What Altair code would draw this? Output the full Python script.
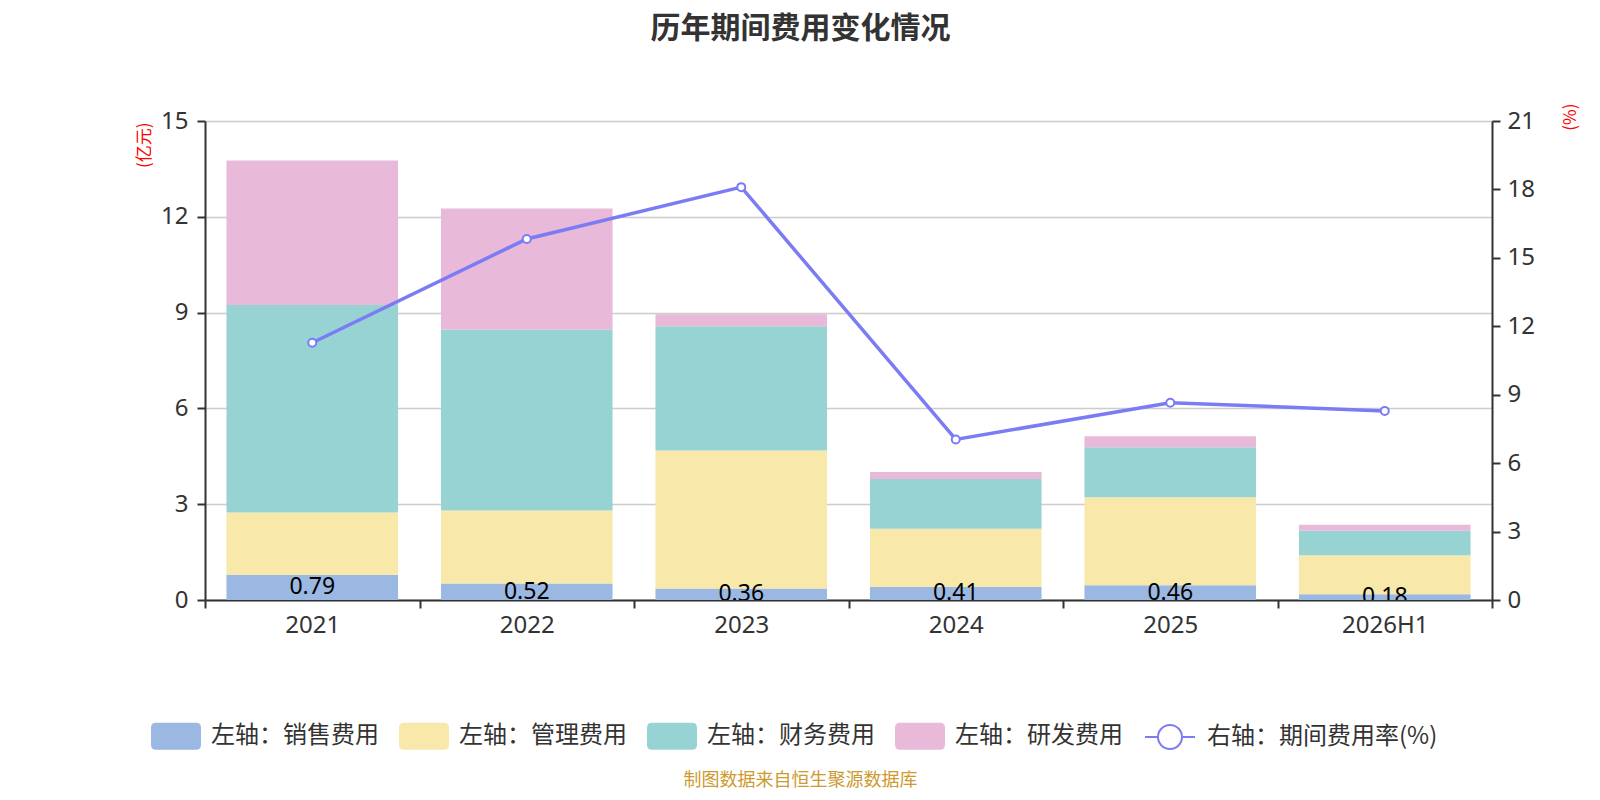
import altair as alt
import pandas as pd

years = ["2021", "2022", "2023", "2024", "2025", "2026H1"]
sales = [0.79, 0.52, 0.36, 0.41, 0.46, 0.18]
admin = [1.95, 2.28, 4.32, 1.82, 2.76, 1.22]
finance = [6.50, 5.67, 3.89, 1.56, 1.56, 0.77]
rnd = [4.52, 3.79, 0.38, 0.22, 0.35, 0.19]
rate = [11.28, 15.83, 18.10, 7.04, 8.65, 8.29]

series_names = ["左轴：销售费用", "左轴：管理费用", "左轴：财务费用", "左轴：研发费用"]
series_colors = ["#9BB8E2", "#F8E8A9", "#98D3D4", "#E8B9D9"]
line_name = "右轴：期间费用率(%)"
line_color = "#7B7CF4"

rows = []
for i, y in enumerate(years):
    for k, vals in enumerate([sales, admin, finance, rnd]):
        rows.append({"year": y, "series": series_names[k], "value": vals[i], "ord": k})
df_bar = pd.DataFrame(rows)
df_lab = pd.DataFrame({"year": years, "sales": sales, "mid": [v / 2 for v in sales],
                       "txt": [f"{v:.2f}" for v in sales]})
df_line = pd.DataFrame({"year": years, "rate": rate, "series": [line_name] * len(years)})

CJK = "Noto Sans CJK SC"
NUM = "Noto Sans"

rr_path = ("M-0.8,-0.54L0.8,-0.54Q1,-0.54 1,-0.34L1,0.34Q1,0.54 0.8,0.54"
           "L-0.8,0.54Q-1,0.54 -1,0.34L-1,-0.34Q-1,-0.54 -0.8,-0.54Z")
line_path = ("M-1,0L-0.48,0M0.48,0L1,0M0.48,0A0.48,0.48,0,1,1,-0.48,0"
             "A0.48,0.48,0,1,1,0.48,0")

x_axis = alt.Axis(
    title="制图数据来自恒生聚源数据库", titleFont=CJK, titleFontSize=18,
    titleColor="#CC9A2E", titleFontWeight="normal", titleX=595, titleY=180,
    titleAlign="center", titleBaseline="middle", titleAngle=0,
    labelFont=NUM, labelFontSize=24, labelColor="#333333", labelPadding=5,
    tickBand="extent", tickSize=8, tickColor="#333333", tickWidth=2,
    domainColor="#333333", domainWidth=2, grid=False, labelAngle=0,
)
x_enc = alt.X("year:N", sort=years, axis=x_axis,
              scale=alt.Scale(paddingInner=0, paddingOuter=0))

y_left_axis = alt.Axis(
    values=[0, 3, 6, 9, 12, 15], grid=True, gridColor="#CCCCCC", gridWidth=1.5,
    title="(亿元)", titleFont=CJK, titleFontSize=17, titleColor="#FF0000",
    titleFontWeight="normal", titleAngle=270, titleX=-61, titleY=1,
    titleAlign="right", titleBaseline="middle",
    labelFont=NUM, labelFontSize=24, labelColor="#333333", labelPadding=9,
    tickSize=8, tickColor="#333333", tickWidth=2,
    domainColor="#333333", domainWidth=2,
)
y_left_scale = alt.Scale(domain=[0, 15], nice=False, zero=True)

bars = alt.Chart(df_bar).mark_bar(width=alt.RelativeBandSize(0.8)).encode(
    x=x_enc,
    y=alt.Y("value:Q", stack="zero", scale=y_left_scale, axis=y_left_axis),
    color=alt.Color(
        "series:N",
        scale=alt.Scale(domain=series_names, range=series_colors),
        legend=alt.Legend(
            orient="none", legendX=-54, legendY=590, direction="horizontal",
            columns=4, title=None, symbolType=rr_path, symbolSize=2500,
            symbolStrokeWidth=0, symbolOpacity=1, labelFont=CJK, labelFontSize=24,
            labelColor="#333333", labelOffset=10, columnPadding=20, padding=0,
            labelLimit=400, symbolOffset=0,
        ),
    ),
    order=alt.Order("ord:Q"),
)

labels = alt.Chart(df_lab).mark_text(
    font=NUM, fontSize=23, color="#000000", baseline="middle", align="center", clip=True
).encode(
    x=x_enc,
    y=alt.Y("mid:Q", scale=y_left_scale, axis=y_left_axis),
    text="txt:N",
)

left = alt.layer(bars, labels)

y_right_axis = alt.Axis(
    orient="right", values=[0, 3, 6, 9, 12, 15, 18, 21], grid=False,
    title="(%)", titleFont=CJK, titleFontSize=17, titleColor="#FF0000",
    titleFontWeight="normal", titleAngle=270, titleX=78, titleY=-18,
    titleAlign="right", titleBaseline="middle",
    labelFont=NUM, labelFontSize=24, labelColor="#333333", labelPadding=7,
    tickSize=8, tickColor="#333333", tickWidth=2,
    domainColor="#333333", domainWidth=2,
)
y_right_scale = alt.Scale(domain=[0, 21], nice=False, zero=True)

line = alt.Chart(df_line).mark_line(strokeWidth=3.5).encode(
    x=x_enc,
    y=alt.Y("rate:Q", scale=y_right_scale, axis=y_right_axis),
    stroke=alt.Stroke(
        "series:N",
        scale=alt.Scale(domain=[line_name], range=[line_color]),
        legend=alt.Legend(
            orient="none", legendX=939, legendY=590, title=None,
            symbolType=line_path, symbolSize=2500, symbolStrokeWidth=2,
            symbolFillColor="#FFFFFF", labelFont=CJK, labelFontSize=24,
            labelColor="#333333", labelOffset=11, padding=0, labelLimit=400,
            symbolOffset=0,
        ),
    ),
)

points = alt.Chart(df_line).mark_point(
    filled=True, fill="#FFFFFF", stroke=line_color, strokeWidth=2, size=64, opacity=1
).encode(
    x=x_enc,
    y=alt.Y("rate:Q", scale=y_right_scale, axis=y_right_axis),
)

right = alt.layer(line, points)

chart = alt.layer(left, right).resolve_scale(y="independent").properties(
    width=1287, height=479,
    autosize=alt.AutoSizeParams(type="none"),
    padding={"left": 197, "top": 113, "right": 100, "bottom": 192},
    title=alt.TitleParams(
        text="历年期间费用变化情况", font=CJK, fontSize=30, fontWeight="bold",
        color="#333333", anchor="middle", dx=-48, offset=59,
    ),
).configure_view(strokeWidth=0)

chart.save("out.html", embed_options={"renderer": "svg", "actions": False})
